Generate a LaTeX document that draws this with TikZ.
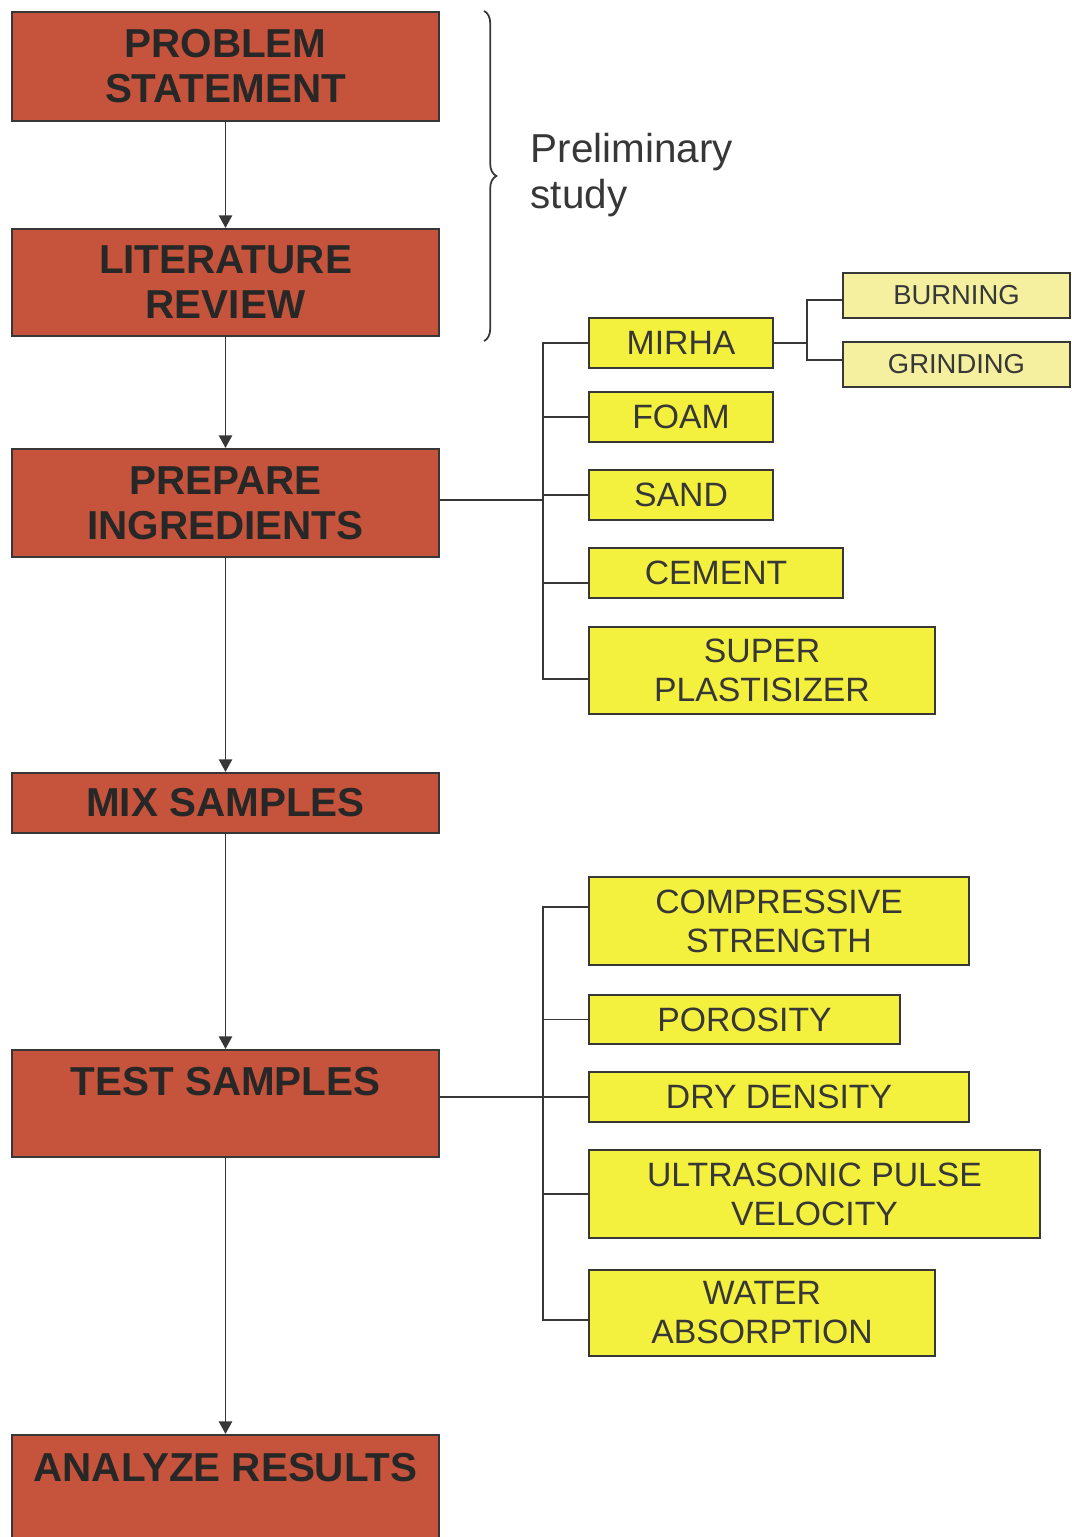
\documentclass[tikz,border=0pt]{standalone}
\usepackage{fontspec}
\setmainfont{Liberation Sans}
\usetikzlibrary{arrows.meta,decorations.pathreplacing,calc}
\definecolor{brick}{RGB}{198,84,60}
\definecolor{lemon}{RGB}{244,240,62}
\definecolor{cream}{RGB}{244,240,160}
\definecolor{ink}{RGB}{55,55,55}
\tikzset{>={Triangle[length=3.6pt,width=3.8pt]}}
\tikzset{
  redbox/.style={rectangle,draw=ink,line width=0.6pt,fill=brick,text=ink!70!black,
    font=\fontsize{11.5}{12.8}\selectfont\bfseries,align=center,
    minimum width=4.27cm,inner sep=0pt},
  yelbox/.style={rectangle,draw=ink,line width=0.6pt,fill=lemon,text=ink,
    font=\fontsize{9.6}{11.1}\selectfont,align=center,inner sep=0pt},
  palebox/.style={yelbox,fill=cream,font=\fontsize{7.8}{9}\selectfont},
  wire/.style={draw=ink,line width=0.5pt}
}

\begin{document}
\begin{tikzpicture}
\useasboundingbox (0,0) rectangle (10.72,-15.37);
\node[redbox,minimum height=1.09cm] (ps)   at (2.255,-0.665)  {PROBLEM\\STATEMENT};
\node[redbox,minimum height=1.07cm] (lr)   at (2.255,-2.825)  {LITERATURE\\REVIEW};
\node[redbox,minimum height=1.08cm] (prep) at (2.255,-5.03)   {PREPARE\\INGREDIENTS};
\node[redbox,minimum height=0.60cm] (mix)  at (2.255,-8.03)   {MIX SAMPLES};
\node[redbox,minimum height=1.07cm] (test) at (2.255,-11.035) {TEST SAMPLES\\[-4pt]\strut};
\node[redbox,minimum height=1.10cm] (ar)   at (2.255,-14.90)  {ANALYZE RESULTS\\[-4pt]\strut};

\foreach \a/\b in {ps/lr,lr/prep,prep/mix,mix/test,test/ar}
  \draw[wire,->] (\a) -- (\b);

% preliminary study
\draw[wire,decorate,decoration={brace,amplitude=3.5pt}]
  ([xshift=0.44cm]ps.north east) -- ([xshift=0.44cm,yshift=-0.04cm]lr.south east);
\node[anchor=west,align=left,inner sep=0pt,text=ink,
  font=\fontsize{11.5}{13.3}\selectfont] (prelim) at (5.30,-1.75) {Preliminary\\study};

% ingredients
\foreach \name/\x/\y/\w/\h/\txt in
    {mirha/6.81/3.43/1.84/0.50/MIRHA,
     foam/6.81/4.17/1.84/0.50/FOAM,
     sand/6.81/4.95/1.84/0.50/SAND,
     cement/7.16/5.73/2.54/0.50/CEMENT,
     super/7.62/6.705/3.46/0.87/{SUPER\\PLASTISIZER}}
  \node[yelbox,minimum width=\w cm,minimum height=\h cm] (\name) at (\x,-\y) {\txt};
\node[palebox,minimum width=2.27cm,minimum height=0.45cm] (burning)  at (9.565,-2.955) {BURNING};
\node[palebox,minimum width=2.27cm,minimum height=0.45cm] (grinding) at (9.565,-3.645) {GRINDING};

% tests
\foreach \name/\x/\y/\w/\h/\txt in
    {comp/7.79/9.21/3.80/0.88/{COMPRESSIVE\\STRENGTH},
     poro/7.445/10.195/3.11/0.49/POROSITY,
     dry/7.79/10.97/3.80/0.50/DRY DENSITY,
     ultra/8.145/11.94/4.51/0.88/{ULTRASONIC PULSE\\VELOCITY},
     water/7.62/13.13/3.46/0.86/{WATER\\ABSORPTION}}
  \node[yelbox,minimum width=\w cm,minimum height=\h cm] (\name) at (\x,-\y) {\txt};

% branch lines
\coordinate (busA) at (5.43,-5.00);
\coordinate (cemtap) at ([yshift=-0.10cm]cement.west);
\coordinate (suptap) at ([yshift=-0.085cm]super.west);
\draw[wire] (prep.east |- busA) -- (busA);
\draw[wire] (mirha.west) -| (busA) |- (suptap);
\foreach \name in {foam,sand}
  \draw[wire] (\name.west) -- (\name.west -| busA);
\draw[wire] (cemtap) -- (cemtap -| busA);

\coordinate (busC) at ($(mirha.east)+(0.33,0)$);
\coordinate (burntap) at ([yshift=-0.045cm]burning.west);
\coordinate (grindtap) at ([yshift=0.045cm]grinding.west);
\draw[wire] (mirha.east) -- (busC);
\draw[wire] (burntap) -| (busC) |- (grindtap);

\coordinate (busB) at (5.43,-10.97);
\coordinate (comptap) at ([yshift=0.14cm]comp.west);
\coordinate (watertap) at ([yshift=-0.07cm]water.west);
\draw[wire] (test.east |- busB) -- (busB);
\draw[wire] (comptap) -| (busB) |- (watertap);
\foreach \name in {poro,dry,ultra}
  \draw[wire] (\name.west) -- (\name.west -| busB);
\end{tikzpicture}
\end{document}
